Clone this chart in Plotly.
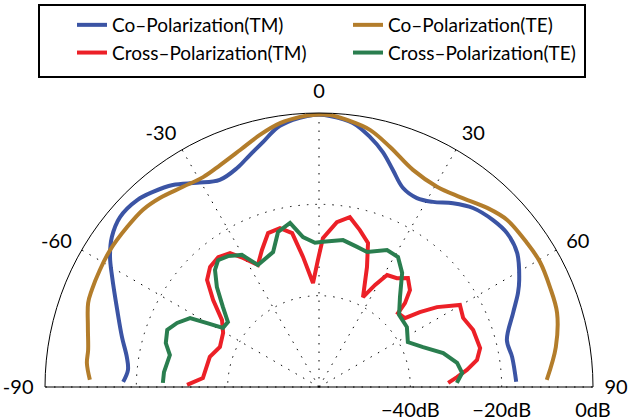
import plotly.graph_objects as go

# Angles in degrees (0 = broadside, positive to the right), levels in dB
co_tm_theta = [-88.5, -84.9, -81.1, -75.8, -69.1, -62.0, -58.1, -54.1, -49.5, -44.2, -40.4, -35.9,
               -30.9, -25.6, -20.5, -16.6, -12.9, -9.2, -5.6, -2.5, 0.0,
               2.3, 7.3, 11.5, 15.2, 18.8, 22.9, 27.4, 31.6, 36.1, 40.7, 46.2, 50.7, 55.9,
               61.9, 64.7, 69.1, 76.0, 81.2, 88.5]
co_tm_db = [-17.1, -18.0, -17.4, -15.5, -12.7, -8.7, -6.1, -4.0, -2.7, -2.9, -3.9, -5.4,
            -7.9, -9.7, -8.8, -7.0, -5.0, -2.5, -1.25, -0.6, -0.4,
            -0.6, -1.7, -4.1, -6.7, -9.8, -12.7, -13.4, -12.4, -10.2, -8.3, -7.2, -6.8, -7.6,
            -10.3, -11.8, -14.5, -17.6, -17.2, -16.8]

co_te_theta = [-88.2, -84.1, -80.9, -75.4, -70.0, -66.9, -61.9, -56.8, -50.2, -44.8, -40.1, -34.2,
               -28.9, -24.0, -18.4, -13.2, -8.4, -4.0, -0.8,
               2.3, 6.0, 11.2, 16.5, 23.4, 30.5, 36.6, 43.2, 48.4, 55.3, 60.5, 66.6, 72.7, 80.4, 88.2]
co_te_db = [-9.8, -8.9, -8.8, -7.7, -6.2, -5.9, -5.6, -5.3, -5.3, -5.3, -5.9, -7.0,
            -7.5, -6.8, -5.3, -3.3, -1.6, -0.7, -0.4,
            -0.4, -1.2, -2.6, -5.2, -8.2, -9.1, -8.2, -6.2, -4.9, -4.6, -4.4, -4.9, -5.4, -7.4, -10.1]

cross_tm_theta = [-89.1, -85.6, -74.6, -68.0, -60.6, -55.4, -50.6, -46.3, -42.2, -37.8, -33.6, -30.5,
                  -26.6, -22.6, -18.3, -13.8, -9.9, -7.0, -3.3, -0.5, 1.5, 6.2, 10.3, 14.6, 18.8,
                  21.8, 26.1, 28.8, 31.3, 35.6, 39.2, 43.2, 45.7, 46.9, 51.3, 53.4, 55.9, 59.8,
                  64.4, 69.7, 76.4, 80.3, 83.4, 85.9, 88.2]
cross_tm_db = [-31.1, -34.5, -35.2, -36.6, -35.9, -34.2, -30.0, -26.1, -24.5, -24.0, -24.8, -27.2,
               -30.1, -27.5, -24.5, -24.2, -25.8, -31.3, -37.2, -32.2, -27.4, -23.7, -22.2, -24.5, -26.7,
               -31.7, -38.1, -34.5, -31.3, -30.7, -29.2, -30.9, -33.7, -36.3, -35.9, -32.5, -28.8, -24.3,
               -25.0, -24.0, -23.7, -24.9, -27.4, -29.7, -31.7]

cross_te_theta = [-88.5, -84.5, -77.9, -74.0, -69.4, -65.7, -61.9, -60.3, -58.4, -54.5, -50.2, -45.6,
                  -41.6, -38.5, -34.8, -30.3, -26.6, -18.8, -14.8, -10.0, -6.1, -1.6, 1.6, 9.3,
                  15.2, 19.6, 26.4, 31.3, 36.1, 42.0, 48.0, 55.7, 63.2, 69.0, 74.7, 80.1, 84.4, 88.3]
cross_te_db = [-25.8, -25.9, -26.6, -25.1, -24.5, -25.9, -28.0, -31.8, -35.3, -35.5, -32.6, -28.7,
               -25.7, -24.5, -25.1, -26.5, -30.1, -28.8, -24.9, -23.5, -27.0, -28.4, -28.2, -27.4,
               -28.2, -28.6, -26.5, -26.7, -29.1, -33.5, -36.4, -36.7, -38.2, -35.6, -31.8, -29.3, -28.5, -29.8]

angle_ticks = [-90, -60, -30, 0, 30, 60, 90]
angle_labels = ["-90", "-60", "-30", "0", "30", "60", "90"]
radial_ticks = [-40, -20, 0]
radial_labels = ["\u221240dB", "\u221220dB", "0dB"]

FONT = "Lato"
W, H = 631, 419

fig = go.Figure()
series = [
    ("Co\u2013Polarization(TM)", co_tm_theta, co_tm_db, "#3b54a4", "spline"),
    ("Co\u2013Polarization(TE)", co_te_theta, co_te_db, "#b37d2b", "spline"),
    ("Cross\u2013Polarization(TM)", cross_tm_theta, cross_tm_db, "#ec2027", "linear"),
    ("Cross\u2013Polarization(TE)", cross_te_theta, cross_te_db, "#2a7e4f", "linear"),
]
for name, th, r, col, shape in series:
    fig.add_trace(go.Scatterpolar(
        theta=th, r=r, mode="lines", name=name,
        line=dict(color=col, width=4, shape=shape),
    ))

# legend frame
fig.add_shape(type="rect", xref="paper", yref="paper",
              x0=39 / W, x1=585 / W, y0=1 - 77 / H, y1=1 - 5 / H,
              line=dict(color="black", width=2), fillcolor="rgba(0,0,0,0)", layer="above")

fig.update_layout(
    width=W, height=H,
    margin=dict(l=0, r=0, t=0, b=0),
    paper_bgcolor="white",
    font=dict(family=FONT, color="black", size=20),
    showlegend=True,
    legend=dict(
        orientation="h",
        x=72 / W, y=1 - 6 / H, xanchor="left", yanchor="top",
        borderwidth=0, bgcolor="rgba(0,0,0,0)",
        font=dict(size=19, family=FONT),
        entrywidth=231, entrywidthmode="pixels",
        tracegroupgap=0,
    ),
    polar=dict(
        domain=dict(x=[45 / W, 593 / W], y=[(H - 387) / H, (H - 113) / H]),
        sector=[0, 180],
        bgcolor="white",
        angularaxis=dict(
            rotation=90, direction="clockwise", thetaunit="degrees",
            tickmode="array", tickvals=angle_ticks, ticktext=angle_labels,
            ticks="outside", ticklen=7, tickcolor="rgba(0,0,0,0)",
            showline=True, linecolor="black", linewidth=1,
            showgrid=True, gridcolor="black", gridwidth=1.2, griddash="1.5px,7px",
            tickfont=dict(size=20, family=FONT),
        ),
        radialaxis=dict(
            range=[-60, 0], angle=0, side="clockwise",
            tickmode="array", tickvals=radial_ticks, ticktext=radial_labels,
            ticks="outside", ticklen=5, tickcolor="rgba(0,0,0,0)", showline=False,
            showgrid=True, gridcolor="black", gridwidth=1.2, griddash="1.5px,7px",
            tickfont=dict(size=20, family=FONT),
        ),
    ),
)

fig.write_html("out.html", config={"displayModeBar": False},
               post_script="document.body.style.margin='0px';")
